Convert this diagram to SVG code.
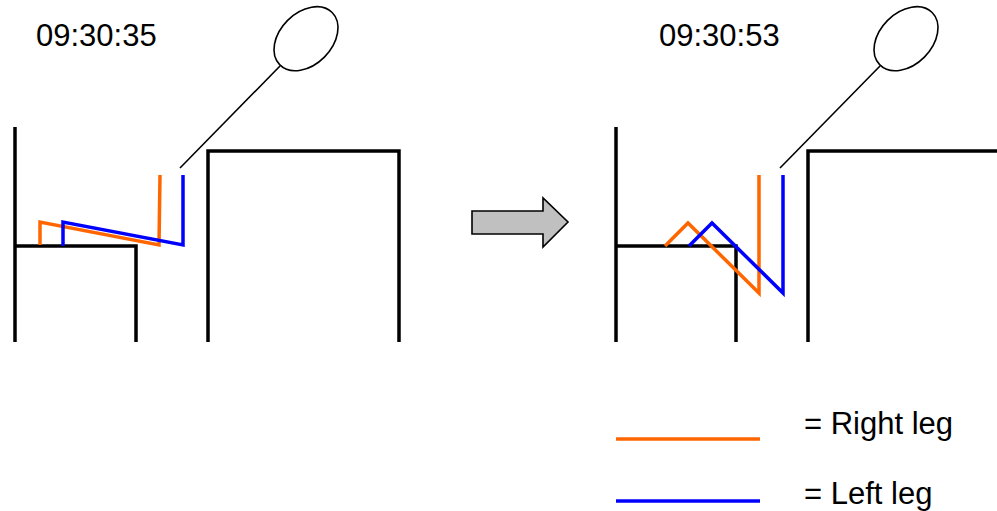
<svg xmlns="http://www.w3.org/2000/svg" width="997" height="511" viewBox="0 0 997 511">
  <style>
    .frame { fill: none; stroke: #000; stroke-width: 3.5; }
    .stick { fill: none; stroke: #000; stroke-width: 1.6; }
    .right { fill: none; stroke: #ff6600; stroke-width: 3.5; stroke-linejoin: miter; }
    .left { fill: none; stroke: #0000ff; stroke-width: 3.5; stroke-linejoin: miter; }
    .label { font-family: "Liberation Sans", Arial, sans-serif; font-size: 31px; fill: #000; }
  </style>
  <defs>
    <!-- chair, table, marker stick: shared by both time frames -->
    <g id="scene">
      <polyline class="frame" points="15,127 15,342"/>
      <polyline class="frame" points="15,246 136,246 136,342"/>
      <polyline class="frame" points="208,342 208,151 399,151 399,342"/>
      <line class="stick" x1="180" y1="168" x2="280" y2="66"/>
      <ellipse class="stick" cx="306" cy="38.7" rx="26" ry="37" transform="rotate(45 306 38.7)"/>
    </g>
  </defs>

  <!-- first frame -->
  <g id="frame-1">
    <text class="label" x="36" y="46">09:30:35</text>
    <use href="#scene"/>
    <polyline class="right" points="40,245 40,222 159,245 160,175"/>
    <polyline class="left" points="63,246 63,222 183,245 183,175"/>
  </g>

  <!-- transition arrow -->
  <g id="arrow">
    <polygon points="472,211 543,211 543,198 568,222 543,247 543,234 472,234" fill="#c0c0c0" stroke="#000" stroke-width="1.6"/>
  </g>

  <!-- second frame -->
  <g id="frame-2">
    <text class="label" x="659" y="46">09:30:53</text>
    <polyline class="frame" points="616,127 616,342"/>
    <polyline class="frame" points="616,246 736,246 736,342"/>
    <polyline class="frame" points="808,342 808,151 997,151"/>
    <line class="stick" x1="780" y1="168" x2="880" y2="66"/>
    <ellipse class="stick" cx="906" cy="38.7" rx="26" ry="37" transform="rotate(45 906 38.7)"/>
    <polyline class="right" points="665,246 688,223 759,293 759,175"/>
    <polyline class="left" points="689,246 712,223 783,293 783,175"/>
  </g>

  <!-- legend -->
  <g id="legend">
    <line x1="616" y1="439" x2="760" y2="439" stroke="#ff6600" stroke-width="3.5"/>
    <text class="label" x="804" y="434">= Right leg</text>
    <line x1="616" y1="501" x2="760" y2="501" stroke="#0000ff" stroke-width="3.5"/>
    <text class="label" x="804" y="504">= Left leg</text>
  </g>
</svg>
